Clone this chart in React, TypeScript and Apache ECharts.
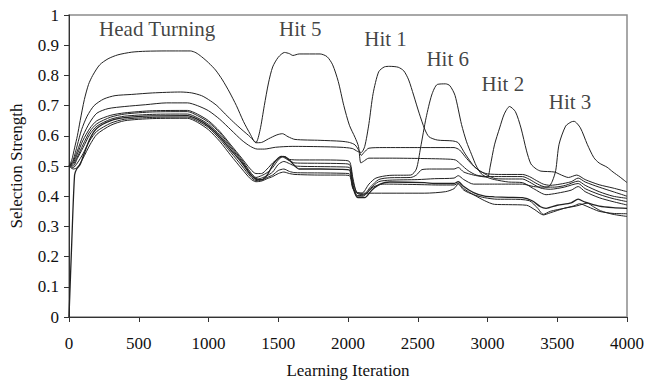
import React, { useEffect, useRef } from "react";
import * as echarts from "echarts";

// x: learning iteration, y: selection strength
const headTurning: number[][] = [
  [0, 0.5], [20, 0.52], [40, 0.56], [60, 0.6], [80, 0.65], [110, 0.72], [140, 0.77], [170, 0.8], [220, 0.835],
  [280, 0.855], [350, 0.868], [450, 0.877], [550, 0.88], [700, 0.881], [870, 0.881], [910, 0.875], [950, 0.862],
  [1000, 0.842], [1050, 0.818], [1100, 0.785], [1150, 0.745], [1200, 0.7], [1250, 0.648], [1300, 0.605],
  [1340, 0.577], [1380, 0.578], [1430, 0.59], [1490, 0.603], [1530, 0.607], [1570, 0.597], [1620, 0.588],
  [1800, 0.585], [1950, 0.582], [2010, 0.578], [2050, 0.57], [2080, 0.55], [2095, 0.535], [2115, 0.545],
  [2150, 0.559], [2250, 0.561], [2500, 0.561], [2760, 0.561], [2800, 0.553], [2850, 0.525], [2900, 0.5],
  [2950, 0.482], [3000, 0.474], [3100, 0.472], [3250, 0.472], [3300, 0.465], [3350, 0.452], [3400, 0.44],
  [3450, 0.436], [3520, 0.44], [3600, 0.448], [3650, 0.46], [3700, 0.447], [3800, 0.43], [3900, 0.415], [4000, 0.4],
];

const hit5: number[][] = [
  [0, 0.5], [30, 0.52], [60, 0.57], [90, 0.62], [130, 0.665], [180, 0.7], [250, 0.722], [330, 0.733], [450, 0.737],
  [600, 0.742], [800, 0.745], [880, 0.742], [950, 0.733], [1000, 0.72], [1060, 0.7], [1120, 0.672], [1180, 0.645],
  [1240, 0.62], [1300, 0.596], [1340, 0.578], [1370, 0.62], [1400, 0.7], [1430, 0.775], [1460, 0.828], [1500, 0.86],
  [1545, 0.876], [1580, 0.872], [1605, 0.866], [1650, 0.871], [1800, 0.871], [1850, 0.862], [1890, 0.835],
  [1930, 0.78], [1970, 0.7], [2010, 0.635], [2050, 0.595], [2075, 0.565], [2092, 0.51], [2110, 0.515],
  [2150, 0.526], [2300, 0.526], [2500, 0.525], [2700, 0.523], [2770, 0.52], [2810, 0.505], [2860, 0.485],
  [2920, 0.47], [3000, 0.465], [3100, 0.465], [3250, 0.465], [3300, 0.456], [3360, 0.44], [3420, 0.43],
  [3480, 0.43], [3560, 0.436], [3650, 0.45], [3700, 0.436], [3800, 0.415], [3900, 0.4], [4000, 0.393],
];

const hit1: number[][] = [
  [0, 0.5], [30, 0.515], [60, 0.55], [100, 0.6], [150, 0.645], [200, 0.675], [280, 0.69], [400, 0.697],
  [550, 0.703], [700, 0.709], [850, 0.709], [920, 0.7], [1000, 0.683], [1080, 0.655], [1160, 0.62], [1240, 0.585],
  [1300, 0.565], [1350, 0.556], [1400, 0.556], [1480, 0.562], [1600, 0.565], [1800, 0.564], [1950, 0.562],
  [2030, 0.558], [2070, 0.548], [2095, 0.545], [2120, 0.565], [2150, 0.64], [2180, 0.74], [2220, 0.812],
  [2260, 0.828], [2300, 0.83], [2360, 0.827], [2400, 0.815], [2435, 0.785], [2470, 0.735], [2510, 0.675],
  [2550, 0.622], [2580, 0.597], [2640, 0.586], [2750, 0.583], [2790, 0.577], [2840, 0.54], [2910, 0.496],
  [3000, 0.469], [3060, 0.458], [3150, 0.457], [3250, 0.457], [3300, 0.447], [3380, 0.427], [3450, 0.423],
  [3550, 0.43], [3650, 0.442], [3700, 0.425], [3800, 0.406], [3900, 0.392], [4000, 0.382],
];

const hit6: number[][] = [
  [0, 0.5], [30, 0.51], [60, 0.54], [100, 0.585], [150, 0.625], [200, 0.65], [300, 0.668], [400, 0.676],
  [600, 0.683], [850, 0.684], [920, 0.672], [1000, 0.65], [1080, 0.615], [1160, 0.57], [1240, 0.525], [1300, 0.49],
  [1340, 0.475], [1380, 0.475], [1420, 0.49], [1460, 0.51], [1500, 0.525], [1540, 0.532], [1580, 0.522],
  [1650, 0.52], [1800, 0.52], [1950, 0.519], [2010, 0.515], [2035, 0.46], [2060, 0.415], [2100, 0.41],
  [2150, 0.44], [2200, 0.46], [2300, 0.469], [2450, 0.47], [2490, 0.49], [2520, 0.56], [2560, 0.66], [2600, 0.735],
  [2640, 0.77], [2700, 0.772], [2730, 0.766], [2767, 0.734], [2814, 0.637], [2850, 0.58], [2885, 0.539],
  [2920, 0.5], [2956, 0.474], [3000, 0.462], [3050, 0.455], [3150, 0.447], [3250, 0.445], [3330, 0.425],
  [3420, 0.405], [3500, 0.41], [3600, 0.42], [3650, 0.432], [3700, 0.415], [3800, 0.395], [3900, 0.382], [4000, 0.371],
];

const hit2: number[][] = [
  [0, 0.5], [30, 0.505], [60, 0.53], [100, 0.57], [150, 0.615], [200, 0.64], [300, 0.662], [400, 0.672],
  [600, 0.679], [850, 0.68], [920, 0.667], [1000, 0.645], [1080, 0.61], [1160, 0.565], [1240, 0.52], [1300, 0.48],
  [1340, 0.462], [1380, 0.468], [1420, 0.478], [1460, 0.495], [1500, 0.52], [1530, 0.53], [1570, 0.52],
  [1620, 0.51], [1800, 0.509], [1950, 0.508], [2010, 0.505], [2035, 0.45], [2065, 0.41], [2110, 0.405],
  [2160, 0.43], [2220, 0.455], [2300, 0.461], [2450, 0.462], [2490, 0.47], [2530, 0.488], [2600, 0.49],
  [2760, 0.49], [2790, 0.495], [2830, 0.48], [2900, 0.47], [2960, 0.465], [3000, 0.463], [3020, 0.5],
  [3050, 0.57], [3087, 0.626], [3120, 0.672], [3158, 0.697], [3200, 0.68], [3240, 0.626], [3280, 0.55],
  [3311, 0.507], [3350, 0.49], [3383, 0.483], [3480, 0.48], [3530, 0.47], [3580, 0.462], [3640, 0.47],
  [3700, 0.455], [3800, 0.438], [3900, 0.427], [4000, 0.415],
];

const hit3: number[][] = [
  [0, 0.5], [30, 0.5], [60, 0.525], [100, 0.56], [150, 0.605], [200, 0.632], [300, 0.655], [400, 0.665],
  [600, 0.671], [850, 0.672], [920, 0.66], [1000, 0.638], [1080, 0.603], [1160, 0.56], [1240, 0.515], [1300, 0.475],
  [1340, 0.455], [1380, 0.46], [1420, 0.468], [1460, 0.48], [1500, 0.505], [1540, 0.515], [1580, 0.508],
  [1620, 0.5], [1800, 0.498], [1950, 0.497], [2010, 0.495], [2035, 0.44], [2065, 0.4], [2110, 0.4], [2160, 0.425],
  [2220, 0.448], [2300, 0.453], [2500, 0.455], [2620, 0.458], [2760, 0.46], [2790, 0.468], [2830, 0.455],
  [2900, 0.44], [2980, 0.44], [3050, 0.44], [3150, 0.44], [3250, 0.44], [3330, 0.432], [3400, 0.43], [3440, 0.432],
  [3465, 0.45], [3489, 0.485], [3513, 0.572], [3560, 0.632], [3600, 0.646], [3620, 0.648], [3666, 0.626],
  [3715, 0.572], [3762, 0.528], [3800, 0.51], [3857, 0.496], [3900, 0.48], [3951, 0.463], [4000, 0.445],
];

const other1: number[][] = [
  [0, 0], [20, 0.25], [40, 0.47], [55, 0.49], [80, 0.505], [100, 0.53], [150, 0.59], [200, 0.625], [300, 0.65],
  [400, 0.66], [600, 0.666], [850, 0.667], [920, 0.655], [1000, 0.632], [1080, 0.597], [1160, 0.553], [1240, 0.51],
  [1300, 0.472], [1340, 0.458], [1380, 0.455], [1420, 0.47], [1470, 0.51], [1520, 0.532], [1550, 0.53],
  [1590, 0.515], [1650, 0.49], [1800, 0.49], [1950, 0.489], [2010, 0.487], [2035, 0.43], [2070, 0.395],
  [2120, 0.395], [2170, 0.42], [2230, 0.44], [2300, 0.447], [2550, 0.445], [2620, 0.442], [2760, 0.442],
  [2790, 0.448], [2830, 0.432], [2900, 0.412], [2980, 0.4], [3050, 0.398], [3150, 0.396], [3250, 0.395],
  [3320, 0.385], [3380, 0.365], [3420, 0.36], [3500, 0.37], [3600, 0.378], [3650, 0.39], [3700, 0.38],
  [3800, 0.367], [3900, 0.362], [4000, 0.36],
];

const other2: number[][] = [
  [0, 0.5], [30, 0.495], [60, 0.51], [100, 0.54], [150, 0.585], [200, 0.615], [300, 0.642], [400, 0.655],
  [600, 0.661], [850, 0.662], [920, 0.65], [1000, 0.627], [1080, 0.59], [1160, 0.545], [1240, 0.5], [1300, 0.465],
  [1340, 0.452], [1380, 0.453], [1420, 0.462], [1460, 0.47], [1500, 0.485], [1540, 0.49], [1580, 0.482],
  [1620, 0.478], [1800, 0.477], [1950, 0.476], [2010, 0.474], [2035, 0.43], [2070, 0.402], [2120, 0.405],
  [2180, 0.43], [2250, 0.44], [2300, 0.44], [2550, 0.438], [2650, 0.437], [2760, 0.437], [2790, 0.443],
  [2830, 0.425], [2900, 0.405], [2980, 0.385], [3050, 0.373], [3150, 0.372], [3280, 0.37], [3340, 0.355],
  [3400, 0.338], [3450, 0.345], [3550, 0.36], [3620, 0.368], [3660, 0.375], [3720, 0.365], [3800, 0.35],
  [3900, 0.343], [4000, 0.342],
];

const other3: number[][] = [
  [0, 0.5], [30, 0.49], [60, 0.495], [100, 0.525], [150, 0.57], [200, 0.605], [300, 0.635], [400, 0.65],
  [600, 0.657], [850, 0.658], [920, 0.645], [1000, 0.62], [1080, 0.582], [1160, 0.535], [1240, 0.49],
  [1300, 0.458], [1340, 0.448], [1380, 0.45], [1420, 0.458], [1460, 0.465], [1500, 0.475], [1540, 0.48],
  [1580, 0.475], [1620, 0.472], [1800, 0.47], [1950, 0.47], [2010, 0.468], [2035, 0.425], [2070, 0.41],
  [2150, 0.41], [2550, 0.41], [2700, 0.415], [2760, 0.425], [2790, 0.44], [2830, 0.42], [2900, 0.405],
  [2980, 0.395], [3070, 0.39], [3170, 0.39], [3300, 0.385], [3360, 0.36], [3400, 0.34], [3450, 0.35],
  [3550, 0.36], [3640, 0.368], [3715, 0.377], [3760, 0.365], [3810, 0.352], [3900, 0.34], [4000, 0.333],
];

const allLines = [headTurning, hit5, hit1, hit6, hit2, hit3, other1, other2, other3];
const lineWidths = [1, 1, 1, 1, 1, 1, 1.3, 1, 1];

const annotationTexts = ["Head Turning", "Hit 5", "Hit 1", "Hit 6", "Hit 2", "Hit 3"];
const annotationX = [632, 1658, 2269, 2715, 3110, 3592];
const annotationY = [0.954, 0.954, 0.922, 0.854, 0.771, 0.712];

const xTicks = { min: 0, max: 4000, interval: 500 };
const yTicks = { min: 0, max: 1, interval: 0.1 };

const FONT = "'Liberation Serif', 'Times New Roman', Times, serif";

export default function App() {
  const ref = useRef<HTMLDivElement>(null);
  useEffect(() => {
    const chart = echarts.init(ref.current!, null, { renderer: "svg" });
    const lineSeries = allLines.map((d, i) => ({
      type: "line",
      data: d,
      showSymbol: false,
      symbol: "none",
      smooth: 0.25,
      lineStyle: { color: "#222", width: lineWidths[i] },
      z: 2,
    }));
    chart.setOption({
      animation: false,
      backgroundColor: "#ffffff",
      textStyle: { fontFamily: FONT },
      grid: {
        left: 68,
        right: 17,
        top: 15,
        bottom: 62,
        show: true,
        borderColor: "#8c8c8c",
        borderWidth: 1.5,
        backgroundColor: "transparent",
      },
      xAxis: {
        type: "value",
        min: xTicks.min,
        max: xTicks.max,
        interval: xTicks.interval,
        name: "Learning Iteration",
        nameLocation: "middle",
        nameGap: 45,
        nameTextStyle: { fontFamily: FONT, fontSize: 17, color: "#111" },
        axisLine: { show: true, lineStyle: { color: "#333", width: 1 } },
        axisTick: { show: true, inside: false, length: 5, lineStyle: { color: "#333" } },
        axisLabel: {
          fontFamily: FONT,
          fontSize: 17,
          color: "#111",
          margin: 18,
          formatter: (v: number) => String(v),
        },
        splitLine: { show: false },
      },
      yAxis: {
        type: "value",
        min: yTicks.min,
        max: yTicks.max,
        interval: yTicks.interval,
        name: "Selection Strength",
        nameLocation: "middle",
        nameRotate: 90,
        nameGap: 44,
        nameTextStyle: { fontFamily: FONT, fontSize: 17, color: "#111" },
        axisLine: { show: true, lineStyle: { color: "#333", width: 1 } },
        axisTick: { show: true, inside: false, length: 5, lineStyle: { color: "#333" } },
        axisLabel: {
          fontFamily: FONT,
          fontSize: 17,
          color: "#111",
          margin: 10,
          formatter: (v: number) => String(Math.round(v * 10) / 10),
        },
        splitLine: { show: false },
      },
      series: [
        ...lineSeries,
        {
          type: "scatter",
          symbolSize: 0,
          data: annotationTexts.map((t, i) => ({ value: [annotationX[i], annotationY[i]], name: t })),
          label: {
            show: true,
            position: "inside",
            formatter: (p: any) => p.name,
            fontFamily: FONT,
            fontSize: 21,
            color: "#111",
          },
          z: 5,
        },
      ],
    });
    return () => chart.dispose();
  }, []);
  return (
    <div
      ref={ref}
      style={{ position: "fixed", left: 0, top: 0, width: 647, height: 384, background: "#fff" }}
    />
  );
}
